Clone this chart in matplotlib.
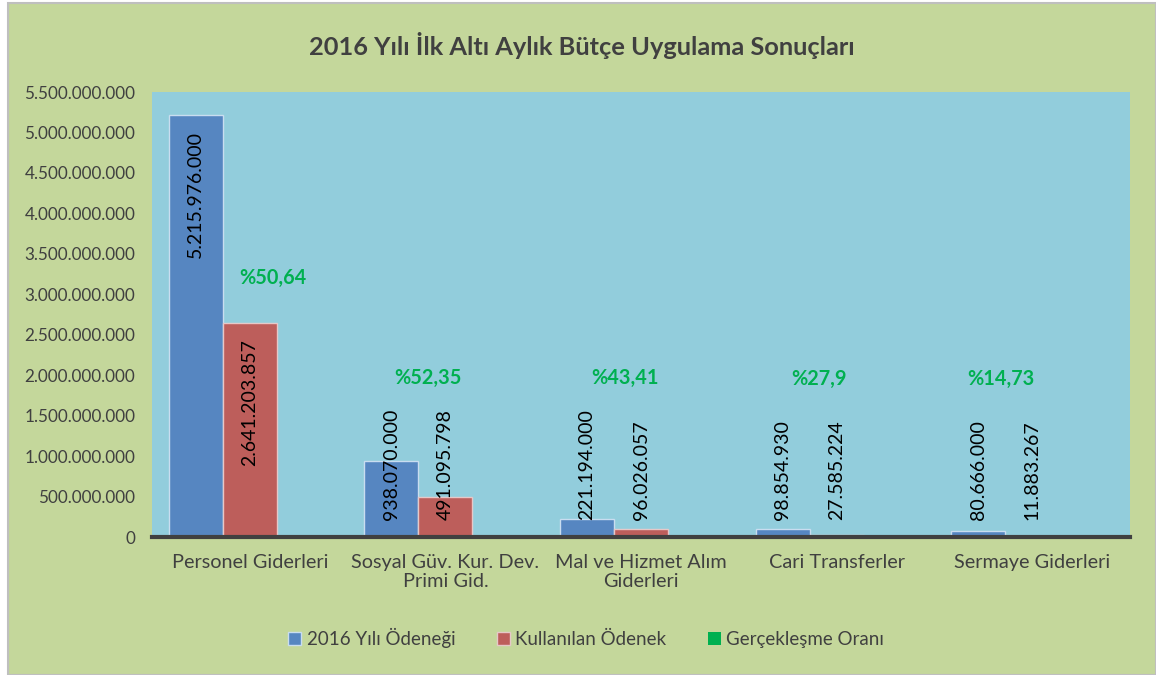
import numpy as np
import matplotlib
matplotlib.use("Agg")
import matplotlib.pyplot as plt
from matplotlib.patches import Rectangle
from matplotlib.ticker import FuncFormatter

plt.rcParams["font.family"] = ["Lato", "DejaVu Sans"]

categories = ["Personel Giderleri", "Sosyal Güv. Kur. Dev.\nPrimi Gid.",
              "Mal ve Hizmet Alım\nGiderleri", "Cari Transferler", "Sermaye Giderleri"]
odenek = [5215976000, 938070000, 221194000, 98854930, 80666000]
kullanilan = [2641203857, 491095798, 96026057, 27585224, 11883267]
oran = [50.64, 52.35, 43.41, 27.9, 14.73]
oran_labels = ["%50,64", "%52,35", "%43,41", "%27,9", "%14,73"]
series_names = ["2016 Yılı Ödeneği", "Kullanılan Ödenek", "Gerçekleşme Oranı"]

BLUE = "#5686C1"
RED = "#BD5E5B"
GREEN = "#00B050"
BG = "#C4D79B"
PLOT_BG = "#92CDDC"
TXT = "#404040"


def tr_num(v):
    return f"{int(round(v)):,}".replace(",", ".")


fig = plt.figure(figsize=(11.56, 6.75), dpi=100, facecolor="white")
bg = Rectangle((8 / 1156, 0), 1 - 8 / 1156, 1 - 3 / 675, transform=fig.transFigure,
               facecolor=BG, edgecolor="#BFBFBF", linewidth=1.5, zorder=-10)
fig.patches.append(bg)

ax = fig.add_axes([0.1315, 0.2044, 0.8460, 0.6593])
ax.set_facecolor(PLOT_BG)

x = np.arange(len(categories))
w = 0.276
b1 = ax.bar(x - w, odenek, w, color=BLUE, edgecolor="#C9DDF0", linewidth=1, zorder=2)
b2 = ax.bar(x, kullanilan, w, color=RED, edgecolor="#E6C8C8", linewidth=1, zorder=2)
b3 = ax.bar(x + w, oran, w, color=GREEN, zorder=2)

ax.set_xlim(-0.5, len(categories) - 0.5)
ax.set_ylim(0, 5.5e9)
ax.set_yticks(np.arange(0, 5.5e9 + 1, 5e8))
ax.yaxis.set_major_formatter(FuncFormatter(lambda v, p: tr_num(v)))
ax.set_xticks(x)
ax.set_xticklabels(categories)
ax.tick_params(axis="y", length=0, pad=12, labelsize=12.3, labelcolor=TXT)
ax.tick_params(axis="x", length=0, pad=12, labelsize=14.3, labelcolor=TXT)
for s in ["top", "right", "left"]:
    ax.spines[s].set_visible(False)
ax.spines["bottom"].set_color(TXT)
ax.spines["bottom"].set_linewidth(3)
ax.spines["bottom"].set_zorder(3)

# rotated value labels: inside end when they fit, otherwise up from the base
text_len = 1.6e9
for bars, vals in [(b1, odenek), (b2, kullanilan)]:
    for rect, v in zip(bars, vals):
        cx = rect.get_x() + rect.get_width() / 2
        if v > text_len:
            ax.text(cx, v - 2.0e8, tr_num(v), rotation=90, ha="center", va="top",
                    fontsize=14, color="black", zorder=4)
        else:
            ax.text(cx, 2.1e8, tr_num(v), rotation=90, ha="center", va="bottom",
                    fontsize=14, color="black", zorder=4)

# percentage labels
label_x = [0.12, -0.09, -0.08, -0.09, -0.16]
label_y = [3.2e9, 1.97e9, 1.97e9, 1.95e9, 1.95e9]
for lx, ly, lab in zip(x + np.array(label_x), label_y, oran_labels):
    ax.text(lx, ly, lab, ha="center", va="center", fontsize=14.3, fontweight="bold",
            color=GREEN, zorder=4)

fig.text(0.503, 0.933, "2016 Yılı İlk Altı Aylık Bütçe Uygulama Sonuçları", ha="center",
         va="center", fontsize=18.3, fontweight="bold", color=TXT)

leg = fig.legend([b1, b2, b3], series_names, loc="center", bbox_to_anchor=(0.507, 0.055),
                 ncol=3, frameon=False, fontsize=13.5, handlelength=0.7, handleheight=0.7,
                 handletextpad=0.3, columnspacing=2.2)
for t in leg.get_texts():
    t.set_color(TXT)

fig.savefig("out.png", dpi=100, facecolor=fig.get_facecolor())
